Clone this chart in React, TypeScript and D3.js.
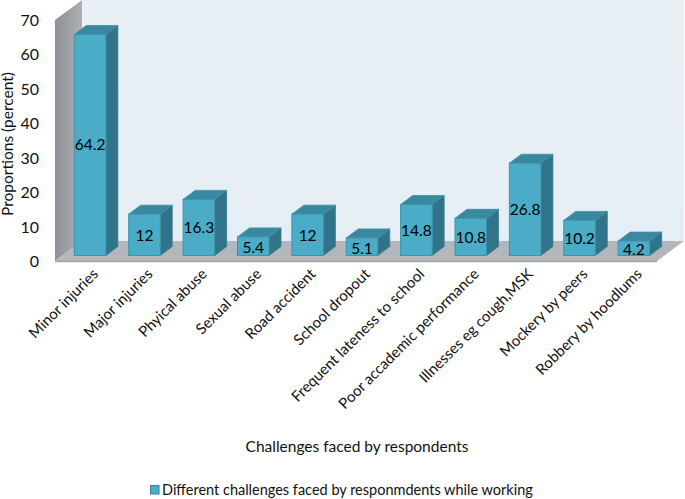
import React from "react";
import * as d3 from "d3";

const categories = ["Minor injuries","Major injuries","Phyical abuse","Sexual abuse","Road accident","School dropout","Frequent lateness to school","Poor accademic performance","Illnesses eg cough,MSK","Mockery by peers","Robbery by hoodlums"];
const values = [64.2,12,16.3,5.4,12,5.1,14.8,10.8,26.8,10.2,4.2];
const ticks = [0,10,20,30,40,50,60,70];
const font = "Lato, Carlito, sans-serif";

export default function App() {
  const y = d3.scaleLinear().domain([0,70]).range([261,20]);
  const x = d3.scaleBand<number>().domain(d3.range(values.length)).range([61.5,662.5]).paddingInner(0.42).paddingOuter(0.236);
  const w = x.bandwidth();
  const dx = 12, dy = 9, wdx = 27, wdy = 20;
  const base = 255.5;
  const h = (v:number)=> y(0)-y(v);
  return (
    <svg width={685} height={499} style={{position:"absolute",left:0,top:0,background:"#fff"}} fontFamily={font}>
      <defs>
        <linearGradient id="wall" x1="0" y1="0" x2="0" y2="1">
          <stop offset="0" stopColor="#e9f0f6"/><stop offset="1" stopColor="#e6eef5"/>
        </linearGradient>
        <linearGradient id="side" x1="0" y1="0" x2="1" y2="0">
          <stop offset="0" stopColor="#8d9195"/><stop offset="1" stopColor="#adb0b3"/>
        </linearGradient>
      </defs>
      <rect x={55+wdx} y={0} width={602} height={y(0)-wdy} fill="url(#wall)"/>
      <polygon points={`55,${y(70)} ${55+wdx},0 ${55+wdx},${y(0)-wdy} 55,${y(0)}`} fill="url(#side)"/>
      <polygon points={`55,${y(0)} ${55+wdx},${y(0)-wdy} 684,${y(0)-wdy} 657,${y(0)}`} fill="#b3b6ba"/>
      <line x1={55} x2={657} y1={y(0)+0.5} y2={y(0)+0.5} stroke="#a3a6a9" strokeWidth={1.5}/>
      {values.map((v,i)=>{
        const l = x(i)!, t = base-h(v);
        return <g key={i}>
          <polygon points={`${l+w},${t} ${l+w+dx},${t-dy} ${l+w+dx},${base-dy} ${l+w},${base}`} fill="#31748a" stroke="#337e95" strokeWidth={0.8}/>
          <polygon points={`${l},${t} ${l+dx},${t-dy} ${l+w+dx},${t-dy} ${l+w},${t}`} fill="#3a87a0" stroke="#3d8fa8" strokeWidth={0.8}/>
          <rect x={l} y={t} width={w} height={h(v)} fill="#4bacc8" stroke="#3d94ad" strokeWidth={1}/>
          <text x={l+w/2} y={v<6 ? base-h(v)/2+7 : v<20 ? base-h(v)/2+6 : t+h(v)/2+5.5} textAnchor="middle" fontSize={15.5} fill="#000">{v}</text>
        </g>;
      })}
      {ticks.map(t=><text key={t} x={39} y={y(t)+6} textAnchor="end" fontSize={16} fill="#111">{t}</text>)}
      <text transform="translate(13,144) rotate(-90)" textAnchor="middle" fontSize={15.5} fill="#111">Proportions (percent)</text>
      {categories.map((c,i)=>{
        const cx = x(i)!+w/2+9;
        return <text key={c} transform={`translate(${cx},275) rotate(-45)`} textAnchor="end" fontSize={15} fill="#111">{c}</text>;
      })}
      <text x={357} y={452} textAnchor="middle" fontSize={15.5} fill="#111">Challenges faced by respondents</text>
      <rect x={150.5} y={485.5} width={8.5} height={8.5} fill="#4bacc8" stroke="#3d7f95"/>
      <text x={162} y={495} fontSize={14.5} fill="#111">Different challenges faced by responmdents while working</text>
    </svg>
  );
}
